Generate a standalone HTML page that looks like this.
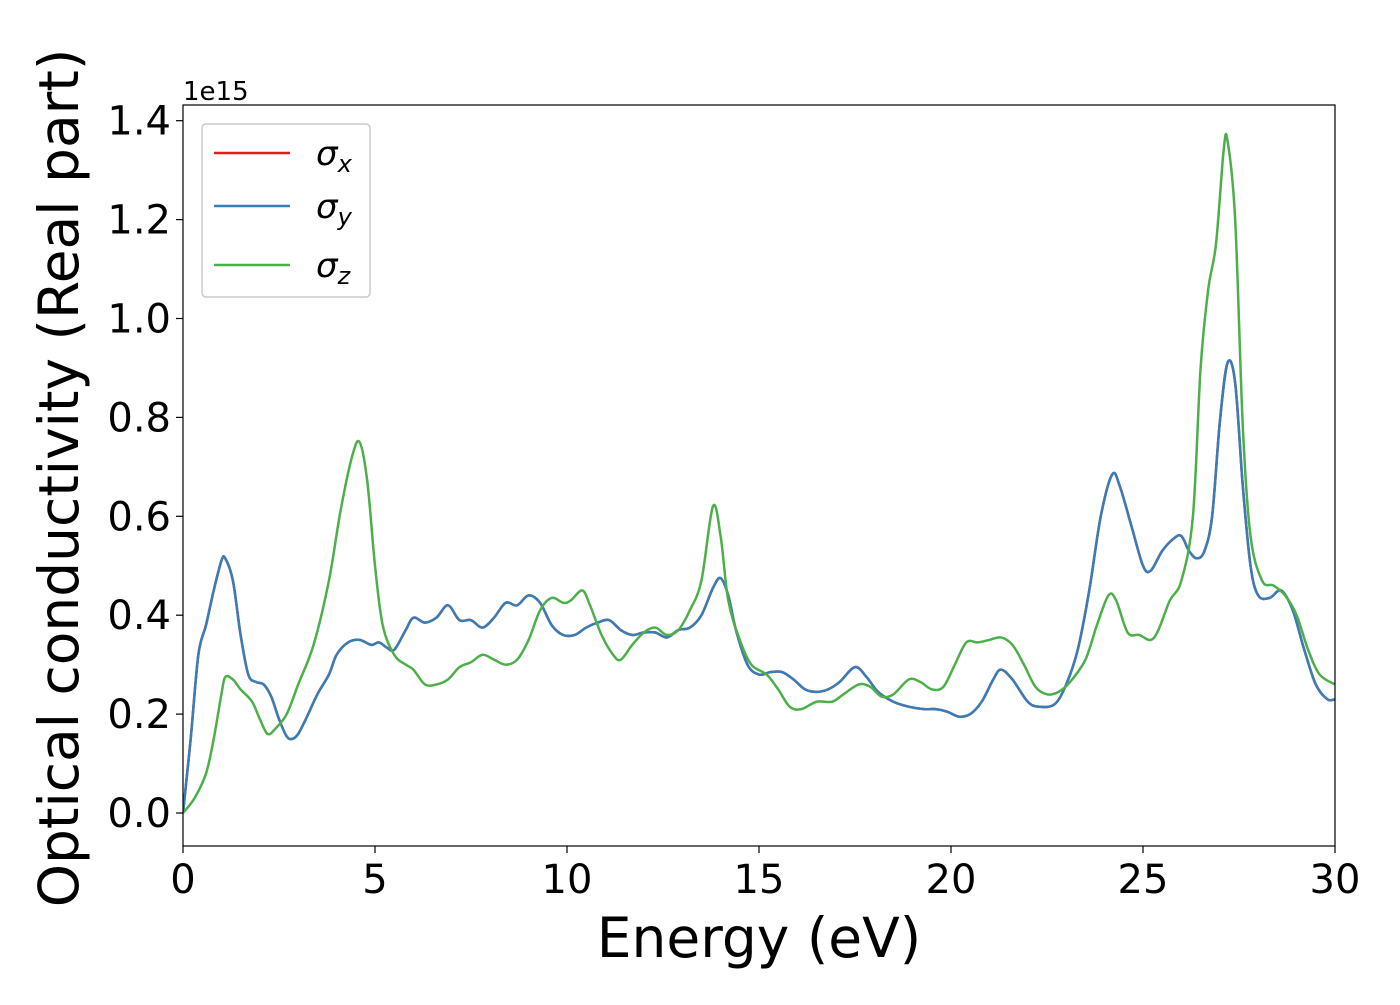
<!DOCTYPE html>
<html><head><meta charset="utf-8"><style>
body{margin:0;background:#fff}
svg{font-family:"DejaVu Sans","Liberation Sans",sans-serif}
</style></head><body>
<svg width="1400" height="1000" viewBox="0 0 1400 1000">
<g id="plot"></g>
<text x="183" y="100" font-size="26">1e15</text>
<text x="759" y="957" font-size="55" text-anchor="middle">Energy (eV)</text>
<text transform="translate(78,478) rotate(-90)" font-size="55" text-anchor="middle">Optical conductivity (Real part)</text>
<g>
<rect x="202" y="124" width="168" height="173" rx="4" fill="#fff" fill-opacity="0.8" stroke="#ccc" stroke-width="1.5"/>
<line x1="214" y1="153" x2="290" y2="153" stroke="#e41a1c" stroke-width="2.5"/>
<text x="316" y="165" font-size="34" font-style="italic">σ<tspan font-size="24" dy="7">x</tspan></text>
<line x1="214" y1="206" x2="290" y2="206" stroke="#377eb8" stroke-width="2.5"/>
<text x="316" y="218" font-size="34" font-style="italic">σ<tspan font-size="24" dy="7">y</tspan></text>
<line x1="214" y1="265" x2="290" y2="265" stroke="#4daf4a" stroke-width="2.5"/>
<text x="316" y="277" font-size="34" font-style="italic">σ<tspan font-size="24" dy="7">z</tspan></text>
</g>
</svg>
<script>
const xTicks=[0,5,10,15,20,25,30];
const yTicks=[0,0.2,0.4,0.6,0.8,1.0,1.2,1.4];
const yTickLabels=["0.0","0.2","0.4","0.6","0.8","1.0","1.2","1.4"];
const energyXY=[0,0.2,0.4,0.6,0.8,1.0,1.1,1.3,1.5,1.7,1.9,2.1,2.3,2.5,2.7,2.85,3.0,3.2,3.5,3.8,4.0,4.3,4.6,4.9,5.1,5.3,5.5,5.8,6.0,6.3,6.6,6.9,7.2,7.5,7.8,8.1,8.4,8.7,9.0,9.3,9.6,9.9,10.2,10.5,10.8,11.1,11.4,11.7,12.0,12.3,12.6,12.9,13.2,13.5,13.8,14.0,14.2,14.4,14.7,15.0,15.3,15.6,15.9,16.2,16.5,16.8,17.1,17.5,17.8,18.1,18.5,18.9,19.3,19.6,19.9,20.2,20.5,20.8,21.1,21.3,21.6,22.0,22.3,22.7,23.0,23.3,23.6,23.9,24.2,24.4,24.7,25.0,25.2,25.5,25.8,26.0,26.2,26.4,26.6,26.8,27.0,27.2,27.4,27.6,27.8,28.0,28.3,28.6,28.9,29.2,29.5,29.8,30];
const sigmaX=[0,0.15,0.32,0.38,0.45,0.51,0.515,0.47,0.36,0.28,0.265,0.26,0.235,0.19,0.155,0.15,0.16,0.19,0.24,0.28,0.32,0.345,0.35,0.34,0.345,0.335,0.33,0.37,0.395,0.385,0.395,0.42,0.39,0.39,0.375,0.395,0.425,0.42,0.44,0.425,0.38,0.36,0.36,0.375,0.385,0.39,0.37,0.36,0.365,0.365,0.355,0.37,0.375,0.4,0.455,0.475,0.44,0.37,0.3,0.28,0.285,0.285,0.27,0.25,0.245,0.25,0.265,0.295,0.275,0.245,0.225,0.215,0.21,0.21,0.205,0.195,0.2,0.225,0.27,0.29,0.27,0.225,0.215,0.22,0.26,0.33,0.45,0.6,0.685,0.66,0.58,0.5,0.49,0.53,0.555,0.56,0.53,0.515,0.53,0.6,0.79,0.91,0.87,0.66,0.5,0.44,0.435,0.45,0.41,0.33,0.26,0.23,0.23];
const sigmaY=sigmaX.slice();
const energyZ=[0,0.3,0.6,0.8,1.0,1.1,1.3,1.5,1.8,2.0,2.2,2.4,2.7,3.0,3.4,3.8,4.1,4.4,4.6,4.8,5.0,5.2,5.5,5.8,6.0,6.3,6.6,6.9,7.2,7.5,7.8,8.1,8.4,8.7,9.0,9.3,9.6,9.9,10.1,10.4,10.6,10.9,11.2,11.4,11.7,12.0,12.3,12.6,12.9,13.2,13.5,13.8,14.0,14.2,14.5,14.8,15.2,15.5,15.8,16.1,16.5,16.9,17.2,17.6,17.9,18.2,18.5,18.9,19.2,19.5,19.8,20.1,20.4,20.7,21.0,21.3,21.6,21.9,22.2,22.5,22.8,23.1,23.5,23.8,24.1,24.3,24.6,24.9,25.2,25.4,25.7,26.0,26.3,26.5,26.7,26.9,27.1,27.2,27.4,27.6,27.8,28.1,28.4,28.7,29.0,29.3,29.6,30];
const sigmaZ=[0,0.03,0.08,0.15,0.24,0.275,0.27,0.25,0.225,0.19,0.16,0.17,0.2,0.26,0.34,0.47,0.61,0.72,0.75,0.67,0.5,0.38,0.32,0.3,0.29,0.26,0.26,0.27,0.295,0.305,0.32,0.31,0.3,0.31,0.35,0.41,0.435,0.425,0.43,0.45,0.42,0.36,0.32,0.31,0.34,0.365,0.375,0.36,0.37,0.41,0.47,0.62,0.56,0.43,0.35,0.3,0.28,0.25,0.215,0.21,0.225,0.225,0.24,0.26,0.255,0.235,0.24,0.27,0.265,0.25,0.255,0.3,0.345,0.345,0.35,0.355,0.34,0.3,0.255,0.24,0.245,0.265,0.31,0.38,0.44,0.43,0.365,0.36,0.35,0.37,0.43,0.47,0.6,0.9,1.06,1.15,1.34,1.36,1.2,0.78,0.56,0.47,0.46,0.44,0.4,0.33,0.28,0.26];

const L=183,R=1335,T=105,B=846;
const sx=v=>L+(v-0)/(30-0)*(R-L);
const sy=v=>813-v/0.2*98.9;
const NS="http://www.w3.org/2000/svg";
const g=document.getElementById('plot');
function mk(t,a){const e=document.createElementNS(NS,t);for(const k in a)e.setAttribute(k,a[k]);g.appendChild(e);return e;}
function pathD(xs,ys){const p=xs.map((x,i)=>[sx(x),sy(ys[i])]);let d=`M${p[0][0]},${p[0][1]}`;
for(let i=0;i<p.length-1;i++){const p0=p[i-1]||p[i],p1=p[i],p2=p[i+1],p3=p[i+2]||p2;
d+=`C${p1[0]+(p2[0]-p0[0])/6},${p1[1]+(p2[1]-p0[1])/6} ${p2[0]-(p3[0]-p1[0])/6},${p2[1]-(p3[1]-p1[1])/6} ${p2[0]},${p2[1]}`;}return d;}
const defs=mk('defs',{});const cp=document.createElementNS(NS,'clipPath');cp.setAttribute('id','clip');defs.appendChild(cp);
const cr=document.createElementNS(NS,'rect');cr.setAttribute('x',L);cr.setAttribute('y',T);cr.setAttribute('width',R-L);cr.setAttribute('height',B-T);cp.appendChild(cr);
const series=[[energyXY,sigmaX,'#e41a1c','series-sigma-x'],[energyXY,sigmaY,'#377eb8','series-sigma-y'],[energyZ,sigmaZ,'#4daf4a','series-sigma-z']];
series.forEach(s=>{const e=mk('path',{d:pathD(s[0],s[1]),fill:'none',stroke:s[2],'stroke-width':2.5,'clip-path':'url(#clip)'});

});
const fr=mk('rect',{x:L,y:T,width:R-L,height:B-T,fill:'none',stroke:'#000','stroke-width':1.2});


xTicks.forEach(v=>{mk('line',{x1:sx(v),x2:sx(v),y1:B,y2:B+7,stroke:'#000','stroke-width':1.2});
const t=mk('text',{x:sx(v),y:B+47,'font-size':40,'text-anchor':'middle'});t.textContent=v;

});
yTicks.forEach((v,i)=>{mk('line',{x1:L-7,x2:L,y1:sy(v),y2:sy(v),stroke:'#000','stroke-width':1.2});
const t=mk('text',{x:L-12,y:sy(v)+14,'font-size':40,'text-anchor':'end'});t.textContent=yTickLabels[i];

});
</script>
</body></html>
